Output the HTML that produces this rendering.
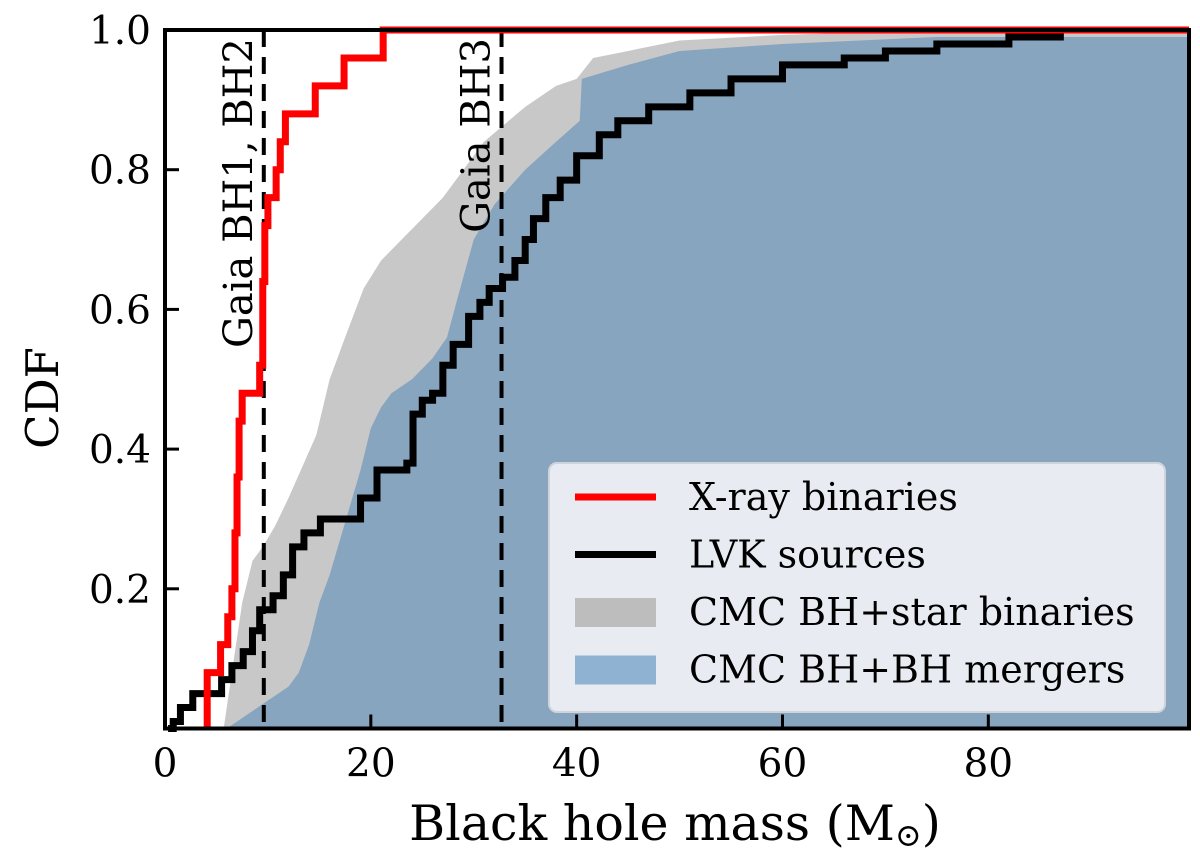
<!DOCTYPE html>
<html><head><meta charset="utf-8"><style>
body{margin:0;background:#fff}
svg text{font-family:"DejaVu Serif","Liberation Serif",serif}
</style></head><body>
<svg id="chart" width="1200" height="856" viewBox="0 0 1200 856" xmlns="http://www.w3.org/2000/svg">
<g id="plot"></g>
</svg>
<script>
const xrayMass=[4.1,5.4,6.1,6.5,6.8,7.0,7.2,7.5,9.2,9.5,9.7,10.0,10.8,11.2,11.7,14.6,17.4,21.2];
const xrayCdf=[0.08,0.12,0.16,0.20,0.28,0.36,0.44,0.48,0.52,0.64,0.72,0.76,0.80,0.84,0.88,0.92,0.96,1.0];
const lvkMass=[0.8,1.5,2.7,4.5,5.5,6.5,7.6,8.5,9.2,10.5,11.5,12.4,13.5,15.1,18,19,20.6,22,23.5,24.1,25,26,27,28,29.5,30.6,31.5,32.8,34,35,35.8,37,38.4,40,42.2,44,47,51,55,60,66,70,75,82,87];
const lvkCdf=[0.01,0.03,0.05,0.05,0.07,0.09,0.11,0.14,0.17,0.19,0.22,0.26,0.28,0.30,0.30,0.33,0.37,0.37,0.38,0.45,0.47,0.48,0.52,0.55,0.59,0.61,0.63,0.646,0.67,0.70,0.73,0.76,0.785,0.82,0.85,0.87,0.89,0.91,0.93,0.95,0.96,0.97,0.98,0.99,1.0];
const starMass=[5.7,6.5,7.5,8.5,9.5,10.7,12,13.5,14.7,16,17.5,19.3,21,23,25,27,29,31,32.6,35,38,40,41.6,45,50,60,75];
const starCdf=[0.0,0.08,0.18,0.24,0.26,0.29,0.33,0.38,0.42,0.50,0.56,0.63,0.67,0.70,0.73,0.76,0.80,0.84,0.86,0.89,0.92,0.93,0.96,0.97,0.985,0.993,1.0];
const bbhMass=[6,8,10,12,13,14,15,16,17,18,19,20,21,22,24,26,27.4,28.5,30,32,35,38,40.3,40.5,45,50,60,75];
const bbhCdf=[0.0,0.02,0.04,0.06,0.08,0.12,0.18,0.22,0.27,0.32,0.37,0.43,0.46,0.48,0.50,0.53,0.56,0.62,0.70,0.75,0.80,0.84,0.87,0.93,0.95,0.97,0.98,0.99];
const gaiaLines=[9.6,32.7];
const gaiaLabels=["Gaia BH1, BH2","Gaia BH3"];
const xTicks=[0,20,40,60,80];
const yTicks=[0.2,0.4,0.6,0.8,1.0];

const L=165,R=1189,T=30,B=728.5,XMAX=99.5;
const sx=v=>L+v*(R-L)/XMAX;
const sy=v=>B-v*(B-T);
const NS="http://www.w3.org/2000/svg";
const g=document.getElementById('plot');
function mk(tag,attrs,parent){const e=document.createElementNS(NS,tag);for(const k in attrs)e.setAttribute(k,attrs[k]);(parent||g).appendChild(e);return e;}
function stepPath(ms,cs,x0){let d='M'+sx(x0)+','+sy(0);for(let i=0;i<ms.length;i++){d+=' H'+sx(ms[i])+' V'+sy(cs[i]);}return d;}
function linePath(ms,cs){let d='M'+sx(ms[0])+','+sy(0);for(let i=0;i<ms.length;i++){d+=' L'+sx(ms[i])+','+sy(cs[i]);}return d;}

let el;
el=mk('path',{d:linePath(starMass,starCdf)+' H'+R+' V'+B+' Z',fill:'#c8c8c8'});


el=mk('path',{d:linePath(bbhMass,bbhCdf)+' H'+R+' V'+B+' Z',fill:'#87a5bf'});


gaiaLines.forEach((m,i)=>{
  const l=mk('line',{x1:sx(m),x2:sx(m),y1:T,y2:B,stroke:'#000','stroke-width':4,'stroke-dasharray':'17,10'});
  
  
});
el=mk('path',{d:stepPath(lvkMass,lvkCdf,0.3),fill:'none',stroke:'#000','stroke-width':7});


el=mk('path',{d:stepPath(xrayMass,xrayCdf,xrayMass[0])+' H'+R,fill:'none',stroke:'#ff0000','stroke-width':7});


gaiaLabels.forEach((t,i)=>{
  const tx=mk('text',{x:0,y:0,'font-size':40,'text-anchor':'end',transform:'translate('+(sx(gaiaLines[i])-12)+','+(T+8)+') rotate(-90)'});
  tx.textContent=t;
  
  
});
xTicks.forEach(v=>{
  const t=mk('line',{x1:sx(v),x2:sx(v),y1:B,y2:B-14,stroke:'#000','stroke-width':3});
  
  
  const tx=mk('text',{x:sx(v),y:B+48,'font-size':39,'text-anchor':'middle'});
  tx.textContent=v;
  
  
});
yTicks.forEach(v=>{
  const t=mk('line',{x1:L,x2:L+14,y1:sy(v),y2:sy(v),stroke:'#000','stroke-width':3});
  
  
  const tx=mk('text',{x:L-14,y:sy(v)+14,'font-size':39,'text-anchor':'end'});
  tx.textContent=v.toFixed(1);
  
  
});
el=mk('rect',{x:L,y:T,width:R-L,height:B-T,fill:'none',stroke:'#000','stroke-width':4});


el=mk('text',{x:675,y:840,'font-size':49,'text-anchor':'middle'});
el.innerHTML='Black hole mass (M<tspan font-size="32" dy="6">⊙</tspan><tspan dy="-6">)</tspan>';


el=mk('text',{x:0,y:0,'font-size':45,'text-anchor':'middle',transform:'translate(58,398) rotate(-90)'});
el.textContent='CDF';


const lg=mk('g',{});


mk('rect',{x:549,y:463,width:616,height:249,rx:8,fill:'#e8ecf2',stroke:'#d0d4da','stroke-width':2},lg);
const entries=[['X-ray binaries','line','#ff0000'],['LVK sources','line','#000'],['CMC BH+star binaries','box','#bdbdbd'],['CMC BH+BH mergers','box','#8fb2d3']];
entries.forEach((e,i)=>{
  const y=497+i*57.5;
  const eg=mk('g',{},lg);
  
  
  if(e[1]==='line')mk('line',{x1:575,x2:656,y1:y,y2:y,stroke:e[2],'stroke-width':7},eg);
  else mk('rect',{x:575,y:y-14,width:81,height:29,fill:e[2]},eg);
  const tx=mk('text',{x:689,y:y+13,'font-size':38},eg);
  tx.textContent=e[0];
});
</script>
</body></html>
